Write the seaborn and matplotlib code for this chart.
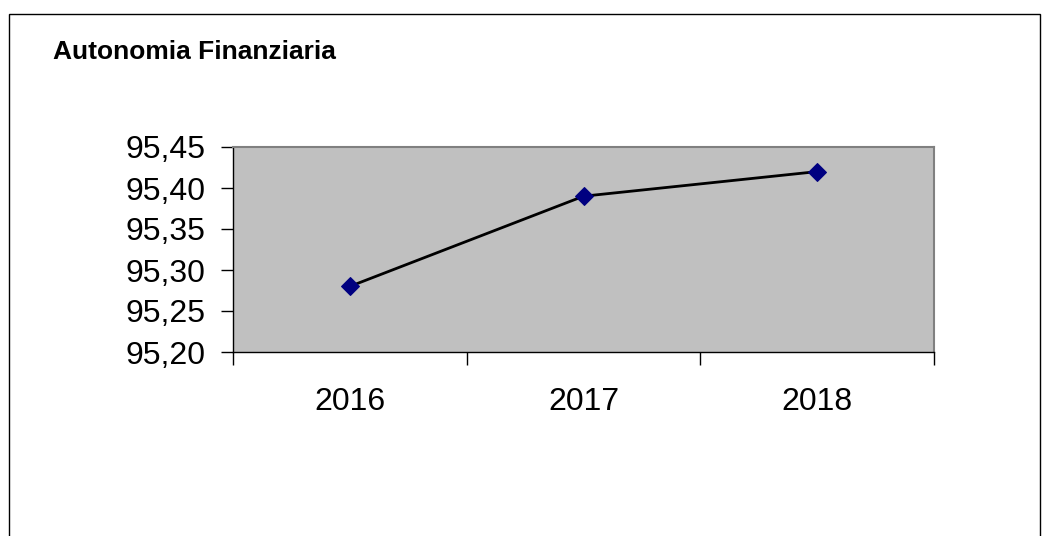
import numpy as np
import matplotlib
matplotlib.use("Agg")
import matplotlib.pyplot as plt
from matplotlib.patches import Rectangle
from matplotlib.ticker import FixedLocator, FuncFormatter
import seaborn as sns
import pandas as pd

years = ["2016", "2017", "2018"]
values = [95.28, 95.39, 95.42]
y_ticks = [95.20, 95.25, 95.30, 95.35, 95.40, 95.45]

sns.set_style("white")
plt.rcParams['font.family'] = ['Liberation Sans', 'DejaVu Sans']
plt.rcParams['text.color'] = 'black'
plt.rcParams['xtick.color'] = 'black'
plt.rcParams['ytick.color'] = 'black'
plt.rcParams['xtick.labelcolor'] = 'black'
plt.rcParams['ytick.labelcolor'] = 'black'

data = pd.DataFrame({'anno': years, 'valore': values})

fig = plt.figure(figsize=(10.43, 5.36), dpi=100)
ax = fig.add_axes([233 / 1043, 1 - 352 / 536, (934 - 233) / 1043, (352 - 147) / 536])

sns.lineplot(data=data, x='anno', y='valore', ax=ax, color='black', lw=2,
             marker='D', markersize=9, markerfacecolor='#000080',
             markeredgecolor='#000080', zorder=3)

ax.set_facecolor('#c0c0c0')
ax.set_xlim(-0.5, 2.5)
ax.set_ylim(95.20, 95.45)
ax.set_yticks(y_ticks)
ax.yaxis.set_major_formatter(FuncFormatter(lambda v, p: f"{v:.2f}".replace('.', ',')))
ax.set_xlabel('')
ax.set_ylabel('')

# category separators on the x axis
ax.xaxis.set_minor_locator(FixedLocator([-0.5, 0.5, 1.5, 2.5]))
ax.tick_params(axis='x', which='major', length=0, pad=25, labelsize=23)
ax.tick_params(axis='x', which='minor', length=9, width=1, color='black', direction='out', bottom=True)
ax.tick_params(axis='y', length=9, width=1, color='black', direction='out', left=True,
               pad=11, labelsize=23)

for s in ['top', 'right']:
    ax.spines[s].set_color('#808080')
    ax.spines[s].set_linewidth(1.5)
for s in ['left', 'bottom']:
    ax.spines[s].set_color('black')
    ax.spines[s].set_linewidth(1)

fig.text(53 / 1043, 1 - 52 / 536, "Autonomia Finanziaria", fontsize=19,
         fontweight='bold', va='center', ha='left', color='black')

# outer frame of the chart object (bottom edge falls outside the image)
fig.patches.append(Rectangle((8.5 / 1043, -0.1), (1040 - 8.5) / 1043, 1.1 - 13.5 / 536,
                             transform=fig.transFigure, fill=False, edgecolor='black',
                             lw=1, clip_on=False))

fig.savefig('out.png', dpi=100)
